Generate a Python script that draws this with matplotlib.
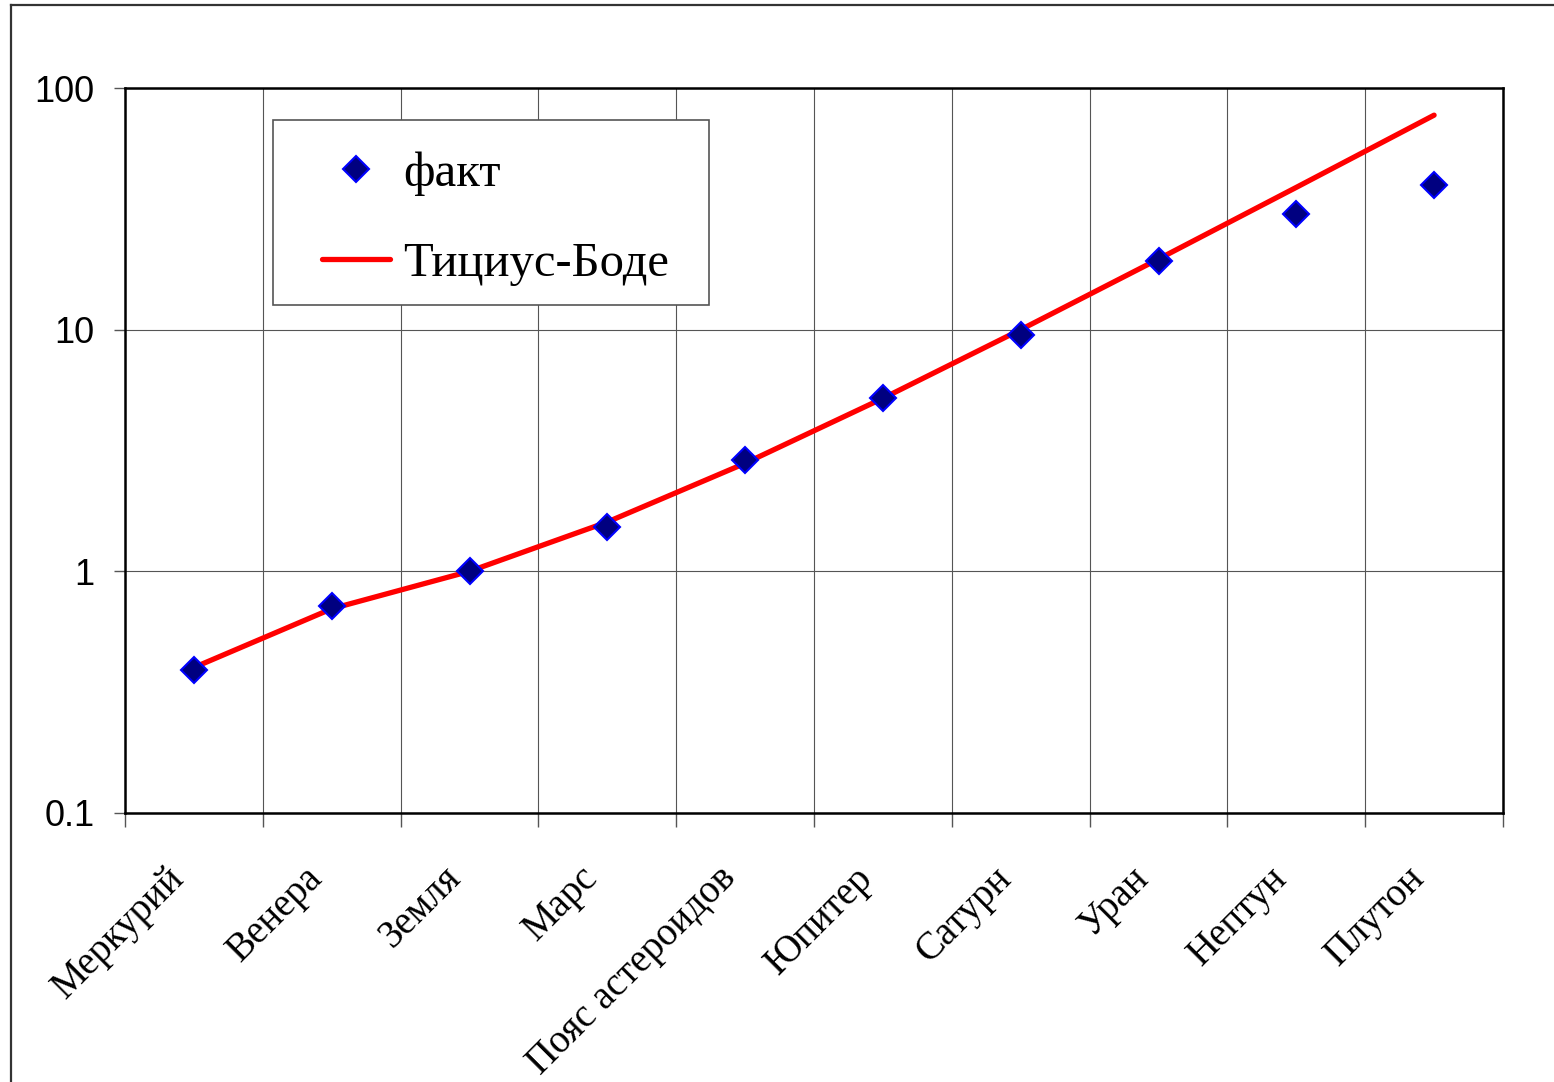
import matplotlib.pyplot as plt
import matplotlib.transforms as mtransforms
from matplotlib.lines import Line2D
from matplotlib.patches import Rectangle
from matplotlib.ticker import FixedLocator, NullFormatter, NullLocator

planets = ['Меркурий', 'Венера', 'Земля', 'Марс', 'Пояс астероидов',
           'Юпитер', 'Сатурн', 'Уран', 'Нептун', 'Плутон']
# semi-major axis, AU
fact = [0.39, 0.72, 1.0, 1.52, 2.9, 5.2, 9.54, 19.2, 30.1, 39.5]
bode = [0.4, 0.7, 1.0, 1.6, 2.8, 5.2, 10.0, 19.6, 38.8, 77.2]
y_ticks = [0.1, 1, 10, 100]
y_labels = ['0.1', '1', '10', '100']

W, H = 1554, 1082
fig = plt.figure(figsize=(W / 100, H / 100), dpi=100)
ax = fig.add_axes([125 / W, 1 - 813 / H, (1503 - 125) / W, (813 - 88) / H])

x = list(range(len(planets)))
ax.plot(x, bode, color='#ff0000', lw=3.8, solid_capstyle='round', zorder=3,
        label='Тициус-Боде')
ax.plot(x, fact, ls='none', marker='D', ms=13, mfc='#000080', mec='#0000ff',
        mew=1.5, zorder=4, label='факт')

ax.set_yscale('log')
ax.set_ylim(0.1, 100)
ax.set_xlim(-0.5, len(planets) - 0.5)
ax.yaxis.set_major_locator(FixedLocator(y_ticks))
ax.yaxis.set_minor_locator(NullLocator())
ax.set_yticklabels(y_labels, fontfamily='Liberation Sans', fontsize=26)
ax.tick_params(axis='y', which='major', direction='out', length=8, width=1,
               color='#555555', pad=14)

# category boundaries carry the ticks and the vertical grid
ax.xaxis.set_minor_locator(FixedLocator([i - 0.5 for i in range(len(planets) + 1)]))
ax.xaxis.set_minor_formatter(NullFormatter())
ax.set_xticks(x)
ax.set_xticklabels(planets, fontfamily='Liberation Serif', fontsize=28,
                   rotation=45, ha='right', va='center', rotation_mode='anchor')
ax.tick_params(axis='x', which='major', length=0, pad=43)
ax.tick_params(axis='x', which='minor', direction='out', length=10, width=1,
               color='#555555')
shift = mtransforms.ScaledTranslation(-15 / 100, 0, fig.dpi_scale_trans)
for lab in ax.get_xticklabels():
    lab.set_transform(lab.get_transform() + shift)

ax.grid(True, axis='x', which='minor', color='#555555', lw=0.8)
ax.grid(True, axis='y', which='major', color='#555555', lw=0.8)
ax.set_axisbelow(True)
for sp in ax.spines.values():
    sp.set_color('black')
    sp.set_linewidth(1.8)

# legend box
fig.patches.append(Rectangle((273 / W, 1 - 305 / H), (709 - 273) / W, (305 - 120) / H,
                             transform=fig.transFigure, facecolor='white',
                             edgecolor='#555555', lw=1.2, zorder=5))
handles, labels = ax.get_legend_handles_labels()
leg = fig.legend(handles[::-1], labels[::-1], loc='center left',
                 bbox_to_anchor=(322 / W, 1 - 219 / H), frameon=False,
                 prop={'family': 'Liberation Serif', 'size': 35},
                 handlelength=1.4, handletextpad=0.27, labelspacing=0.95,
                 numpoints=1, borderpad=0, borderaxespad=0)
leg.set_zorder(6)

# outer chart border
fig.add_artist(Line2D([11 / W, 1], [1 - 5 / H, 1 - 5 / H], color='#333333', lw=1.6))
fig.add_artist(Line2D([11 / W, 11 / W], [0, 1 - 5 / H], color='#333333', lw=1.6))

fig.savefig('out.png', dpi=100)
